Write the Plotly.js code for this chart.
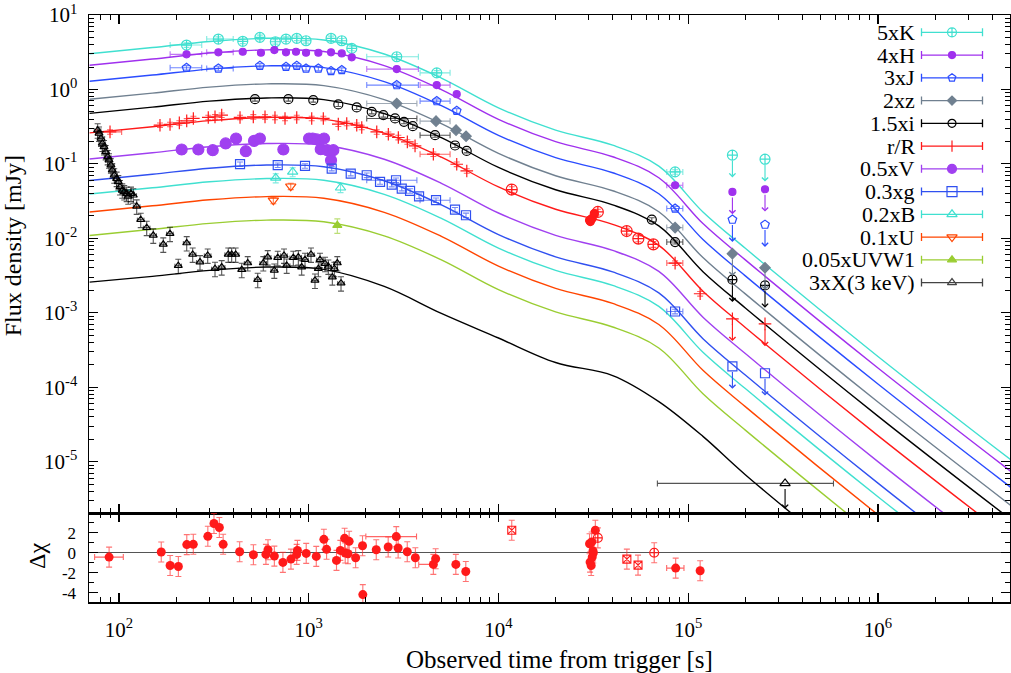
<!DOCTYPE html>
<html>
<head>
<meta charset="utf-8">
<script src="https://cdn.plot.ly/plotly-3.0.1.min.js"></script>
<style>
html, body { margin: 0; padding: 0; background: #fff; }
#lc { width: 1011px; height: 673px; }
</style>
</head>
<body>
<div id="lc"></div>
<script>
const modelT = [70, 150, 300, 600, 1200, 2500, 5000, 1e4, 2e4, 4e4, 7e4, 1.2e5, 2e5, 1e6, 5e6];
const modK = [3.017, 3.656, 4.402, 4.861, 4.612, 2.989, 1.421, 0.5662, 0.2838, 0.1782, 0.0931, 0.02239, 0.00734, 2.588e-4, 1.064e-5];
const modH = [2.111, 2.559, 3.081, 3.402, 3.228, 2.092, 0.9945, 0.3963, 0.1986, 0.1247, 0.06516, 0.01567, 0.005134, 1.811e-4, 7.447e-6];
const modJ = [1.287, 1.560, 1.877, 2.074, 1.967, 1.275, 0.6061, 0.2415, 0.1211, 0.07603, 0.03972, 0.00955, 0.00313, 1.104e-4, 4.539e-6];
const modZ = [0.7372, 0.8933, 1.0755, 1.188, 1.127, 0.7305, 0.3472, 0.1384, 0.06934, 0.04355, 0.02275, 0.00547, 0.001793, 6.324e-5, 2.6e-6];
const modI = [0.4771, 0.5781, 0.6962, 0.7687, 0.7293, 0.4727, 0.2247, 0.08954, 0.04487, 0.02818, 0.01472, 0.00354, 0.00116, 4.093e-5, 1.683e-6];
const modR = [0.2609, 0.316, 0.3807, 0.4204, 0.399, 0.2585, 0.1229, 0.049, 0.02455, 0.01542, 0.00805, 0.001935, 0.000635, 2.238e-5, 9.2e-7];
const modV = [0.1165, 0.1413, 0.1701, 0.1878, 0.1781, 0.1155, 0.05491, 0.02188, 0.01096, 0.006887, 0.003597, 0.000865, 0.0002835, 1.0e-5, 4.11e-7];
const modG = [0.05991, 0.07261, 0.08741, 0.09654, 0.09161, 0.05936, 0.02822, 0.01125, 0.005636, 0.00354, 0.001849, 0.0004446, 0.0001457, 5.14e-6, 2.113e-7];
const modB = [0.03939, 0.04775, 0.05747, 0.06348, 0.06024, 0.03903, 0.01856, 0.007396, 0.003707, 0.002328, 0.001216, 0.0002924, 9.583e-5, 3.38e-6, 1.39e-7];
const modU = [0.02257, 0.02735, 0.03293, 0.03637, 0.03451, 0.02236, 0.01063, 0.004236, 0.002123, 0.001334, 0.0006966, 0.0001675, 5.49e-5, 1.936e-6, 7.96e-8];
const modW1 = [0.0109, 0.01321, 0.0159, 0.01757, 0.01667, 0.0108, 0.005135, 0.002046, 0.001026, 0.000644, 0.0003365, 8.09e-5, 2.651e-5, 9.35e-7, 3.846e-8];
const modX = [0.002582, 0.003083, 0.003707, 0.004111, 0.003828, 0.002259, 0.0009795, 0.0004581, 0.0002148, 0.0001435, 6.412e-5, 2.168e-5, 6.68e-6, 2.28e-7, 8.67e-9];

// measurements: time (s), flux (mJy), time-bin edges where drawn
const kT = [227, 334, 449, 553, 667, 759, 865, 968, 1311, 1493, 1686, 2910, 4729, 85300];
const kF = [3.95, 4.75, 4.43, 5.01, 4.37, 4.75, 4.86, 4.51, 4.86, 4.51, 3.56, 2.75, 1.67, 0.078];
const kLo = [186, 290, null, null, null, null, null, null, null, null, null, 2022, 3862, 77100];
const kHi = [273, 400, null, null, null, null, null, null, null, null, null, 3784, 5558, 93700];

const hT = [227, 334, 449, 560, 659, 759, 857, 968, 1124, 1311, 1493, 1686, 2910, 4729, 6026, 85300];
const hF = [2.96, 3.15, 3.21, 3.11, 3.38, 3.15, 3.21, 3.11, 3.11, 3.15, 3.05, 2.70, 1.877, 1.144, 0.865, 0.0516];
const hLo = [186, 290, null, null, null, null, null, null, null, null, null, null, 2022, 3862, null, 77100];
const hHi = [273, 400, null, null, null, null, null, null, null, null, null, null, 3784, 5558, null, 93700];

const jT = [227, 334, 553, 759, 865, 968, 1124, 1311, 1493, 2910, 4729, 6026, 85300];
const jF = [1.954, 1.918, 2.08, 2.016, 2.08, 1.918, 1.918, 1.765, 1.82, 1.144, 0.697, 0.516, 0.0251];
const jLo = [186, 290, null, null, null, null, null, null, null, 2022, 3862, null, 77100];
const jHi = [273, 400, null, null, null, null, null, null, null, 3784, 5558, null, 93700];

const zT = [2910, 4688, 5977, 6750, 85300];
const zF = [0.6486, 0.375, 0.284, 0.2355, 0.01393];
const zLo = [2022, 3862, null, null, 77100];
const zHi = [3716, 5558, null, null, 93700];

const iT = [521, 781, 1057, 1432, 1791, 2148, 2474, 2851, 3178, 3535, 4632, 5902, 6801, 64300, 85300];
const iF = [0.741, 0.741, 0.7185, 0.629, 0.5733, 0.5, 0.4518, 0.4077, 0.3673, 0.321, 0.243, 0.1767, 0.1494, 0.01785, 0.00891];
const iLo = [null, null, null, null, null, null, null, 2022, null, null, 3862, null, null, null, 77100];
const iHi = [null, null, null, null, null, null, null, 3716, null, null, 5558, null, null, null, 93700];

const rT = [89.7, 164.5, 185.8, 208, 227.5, 246.6, 295.6, 320.7, 347.8, 434.5, 510.5, 588.4, 664, 750, 864.6, 1037, 1194, 1432, 1586, 1791, 1903, 2283, 2628, 2967, 3310, 3634, 4538, 6026, 6808, 85300, 115600];
const rF = [0.269, 0.331, 0.3385, 0.3556, 0.3785, 0.4075, 0.4204, 0.4285, 0.4518, 0.4204, 0.4285, 0.4285, 0.4204, 0.4077, 0.4204, 0.4077, 0.4077, 0.3417, 0.349, 0.331, 0.3084, 0.269, 0.2506, 0.2263, 0.1974, 0.1745, 0.1349, 0.0989, 0.0804, 0.00465, 0.0018];
const rLo = [76.3, null, null, null, null, null, null, null, null, null, null, null, null, null, null, null, null, null, null, null, null, null, null, null, null, null, 3862, null, null, 77100, null];
const rHi = [103.3, null, null, null, null, null, null, null, null, null, null, null, null, null, null, null, null, null, null, null, null, null, null, null, null, null, 5558, null, null, 93700, null];
const rOpT = [11750, 33400, 47400, 54600, 65500];
const rOpF = [0.0452, 0.0226, 0.01253, 0.0099, 0.0083];
const rFiT = [30200, 30500, 30800, 31200, 32000];
const rFiF = [0.0175, 0.0168, 0.018, 0.0186, 0.0215];

const vT = [214, 262, 312, 365, 414, 466, 515, 553, 735, 1004, 1050, 1102, 1157, 1204, 1253, 1311, 1348];
const vF = [0.156, 0.156, 0.1527, 0.188, 0.2194, 0.148, 0.2037, 0.2194, 0.156, 0.2194, 0.2194, 0.213, 0.1575, 0.2194, 0.1527, 0.112, 0.1527];

const gT = [434.5, 686.6, 956, 1322, 1665, 2022, 2376, 2739, 2885, 3093, 3420, 3815, 4688, 5902, 6745, 85300];
const gF = [0.099, 0.096, 0.0939, 0.0866, 0.0742, 0.0704, 0.0572, 0.0528, 0.0603, 0.0466, 0.0433, 0.0367, 0.0325, 0.0243, 0.0204, 0.00104];
const gLo = [null, null, null, null, null, null, null, null, 2022, null, null, null, 3862, null, null, 77100];
const gHi = [null, null, null, null, null, null, null, null, 3716, null, null, null, 5558, null, null, 93700];

const bT = [670, 823, 1471];
const bF = [0.0647, 0.078, 0.0478];
const uT = [651, 804];
const uF = [0.0324, 0.05005];
const w1T = [1415];
const w1F = [0.01496];

const xT = [77.2, 78.5, 80.4, 81.7, 83.4, 85.1, 87.2, 88.6, 90.7, 92.2, 94.4, 97.2, 99.2, 101.2, 104.1, 106.6, 109.8, 111.9, 115.7, 119, 124, 130.2, 140, 151.6, 171.2, 185.7, 205.4, 227.5, 244.6, 267.3, 293.5, 320.7, 347.8, 376.7, 392.6, 412, 443.6, 477, 538.5, 576.3, 608, 658.6, 686.6, 741, 765.6, 829.5, 881.6, 918, 956, 1028, 1079, 1124, 1147, 1219, 1269, 1332, 1365, 1415, 1480];
const xF = [0.2838, 0.256, 0.2193, 0.188, 0.169, 0.145, 0.1242, 0.112, 0.096, 0.0822, 0.0704, 0.0635, 0.0572, 0.049, 0.0442, 0.042, 0.0399, 0.0367, 0.0399, 0.0379, 0.0269, 0.01784, 0.01393, 0.01097, 0.0083, 0.01156, 0.00429, 0.00865, 0.00609, 0.0048, 0.0059, 0.00391, 0.00411, 0.00609, 0.00609, 0.00609, 0.00379, 0.00466, 0.00278, 0.00466, 0.0056, 0.00371, 0.0055, 0.0059, 0.00433, 0.0055, 0.0056, 0.00411, 0.00517, 0.00609, 0.00272, 0.00391, 0.00517, 0.00456, 0.0042, 0.00301, 0.00391, 0.00466, 0.0025];

// upper limits
const ulT = [171000, 254000];
const kUl = [0.131, 0.1156];
const hUl = [0.042, 0.0456];
const jUl = [0.01785, 0.01528];
const zUl = [0.00622, 0.00403];
const iUl = [0.00278, 0.00233];
const rUl = [0.00083, 0.00071];
const gUl = [0.00019, 0.000154];
const xUlT = [324000];
const xUlF = [5.1e-6];
const xUlLo = [68800];
const xUlHi = [583000];

// residuals (Δχ) of r band
const resT = [88.7, 167, 186, 205.6, 227.7, 246.4, 294, 316.7, 338, 354, 432.5, 511, 595, 610, 659, 731, 806, 864, 872, 970, 1096, 1202, 1242, 1401, 1468, 1546, 1557, 1610, 1633, 1767, 1921, 1928, 2269, 2623, 2893, 2960, 3306, 3648, 4538, 4666, 5962, 6728, 30200, 31000, 32400, 31500, 31200, 30400, 30800, 31600, 85900, 115600];
const resV = [-0.44, 0.07, -1.28, -1.38, 0.81, 0.84, 1.64, 2.92, 2.52, 0.84, 0.1, -0.2, -0.17, 0.3, -0.34, -0.97, -0.64, -0.17, 0.23, -0.07, -0.37, 1.34, 0.34, -0.77, 0.23, 1.44, -0.03, -0.1, 1.14, -0.5, 0.7, -4.19, 0.3, 0.57, 1.61, 0.47, 0.1, -0.5, -1.17, -0.6, -1.17, -1.88, 0.9, 1.07, 2.25, 0.17, -0.44, -0.94, -1.28, -0.03, -1.54, -1.8];
const resLo = [74.4, null, null, null, null, null, null, null, null, null, null, null, null, null, null, null, null, null, null, null, null, null, null, null, null, null, null, null, null, null, null, null, null, null, 2000, null, null, null, 3800, null, null, null, null, null, null, null, null, null, null, null, 77000, null];
const resHi = [105.4, null, null, null, null, null, null, null, null, null, null, null, null, null, null, null, null, null, null, null, null, null, null, null, null, null, null, null, null, null, null, null, null, null, 3700, null, null, null, 4650, null, null, null, null, null, null, null, null, null, null, null, 95000, null];
const resSqT = [11750, 47500, 54400];
const resSqV = [2.25, -0.64, -1.24];
const resCiT = [33400, 66200];
const resCiV = [1.48, 0];

const legendLabels = ["5xK", "4xH", "3xJ", "2xz", "1.5xi", "r/R", "0.5xV", "0.3xg", "0.2xB", "0.1xU", "0.05xUVW1", "3xX(3 keV)"];
const yTickVals = [1e-5, 1e-4, 1e-3, 1e-2, 1e-1, 1, 10];
const yTickText = ['10<sup>-5</sup>', '10<sup>-4</sup>', '10<sup>-3</sup>', '10<sup>-2</sup>', '10<sup>-1</sup>', '10<sup>0</sup>', '10<sup>1</sup>'];
const xTickVals = [1e2, 1e3, 1e4, 1e5, 1e6];
const xTickText = ['10<sup>2</sup>', '10<sup>3</sup>', '10<sup>4</sup>', '10<sup>5</sup>', '10<sup>6</sup>'];
const resTickVals = [-4, -2, 0, 2];
const resTickText = ['-4', '-2', '0', '2'];

// colours
const cK = '#40e0d0', cH = '#a030ee', cJ = '#2b4cff', cZ = '#708090', cI = '#000000',
      cR = '#ff1a1a', cV = '#a040f0', cG = '#3050f0', cB = '#40e0d0', cU = '#ff4500',
      cW1 = '#9acd32', cX = '#000000';

const serif = 'Liberation Serif, Times New Roman, serif';
const fade = c => c + 'aa';

function xErr(t, lo, hi, color) {
  return {
    type: 'data', symmetric: false,
    array: hi.map((h, k) => h === null ? NaN : h - t[k]),
    arrayminus: lo.map((l, k) => l === null ? NaN : t[k] - l),
    color: fade(color), thickness: 1.1, width: 3
  };
}

function model(y, color) {
  return {x: modelT, y: y, xaxis: 'x', yaxis: 'y', type: 'scatter', mode: 'lines',
    line: {color: color, width: 1.4, shape: 'spline'}, hoverinfo: 'skip'};
}

function pts(t, f, color, sym, size, pct, lo, hi) {
  const tr = {x: t, y: f, xaxis: 'x', yaxis: 'y', type: 'scatter', mode: 'markers',
    marker: {symbol: sym, size: size, color: color, line: {color: color, width: 1.2}}};
  if (pct) tr.error_y = {type: 'percent', value: pct, color: fade(color), thickness: 1.1, width: 3};
  if (lo) tr.error_x = xErr(t, lo, hi, color);
  return tr;
}

function arrows(t, f, color, len) {
  return t.map((tt, k) => ({
    xref: 'x', yref: 'y', axref: 'x', ayref: 'y',
    x: Math.log10(tt), y: Math.log10(f[k]) - len,
    ax: Math.log10(tt), ay: Math.log10(f[k]),
    text: '', showarrow: true, arrowhead: 4, arrowsize: 1.1, arrowwidth: 1.1,
    arrowcolor: color, startstandoff: 4
  }));
}

const traces = [
  model(modK, cK), model(modH, cH), model(modJ, cJ), model(modZ, cZ), model(modI, cI),
  model(modR, cR), model(modV, cV), model(modG, cG), model(modB, cB), model(modU, cU),
  model(modW1, cW1), model(modX, cX),

  pts(kT, kF, cK, 'circle-cross-open', 10, 7, kLo, kHi),
  pts(hT, hF, cH, 'circle', 7, 6, hLo, hHi),
  pts(jT, jF, cJ, 'pentagon-open', 9, 7, jLo, jHi),
  pts(zT, zF, cZ, 'diamond', 8, 7, zLo, zHi),
  pts(iT, iF, cI, 'circle-open', 9, 6, iLo, iHi),
  pts(rT, rF, cR, 'cross-thin-open', 9, 7, rLo, rHi),
  pts(rOpT, rOpF, cR, 'circle-cross-open', 11, 9),
  pts(rFiT, rFiF, cR, 'circle', 8, 8),
  pts(vT, vF, cV, 'circle', 11, 14),
  pts(gT, gF, cG, 'square-open', 9, 7, gLo, gHi),
  pts(bT, bF, cB, 'triangle-up-open', 9, 14),
  pts(uT, uF, cU, 'triangle-down-open', 9, 10),
  pts(w1T, w1F, cW1, 'triangle-up', 8, 22),
  Object.assign(pts(xT, xF, cX, 'triangle-up-open', 7, 22),
    {error_x: {type: 'percent', value: 4, color: fade(cX), thickness: 1, width: 2}}),

  // upper limit markers
  pts(ulT, kUl, cK, 'circle-cross-open', 10),
  pts(ulT, hUl, cH, 'circle', 7),
  pts(ulT, jUl, cJ, 'pentagon-open', 9),
  pts(ulT, zUl, cZ, 'diamond', 8),
  pts(ulT, iUl, cI, 'circle-cross-open', 9),
  pts(ulT, rUl, cR, 'cross-thin-open', 9),
  pts(ulT, gUl, cG, 'square-open', 9),
  pts(xUlT, xUlF, cX, 'triangle-up-open', 9, 0, xUlLo, xUlHi),

  // residual panel
  {x: resT, y: resV, xaxis: 'x2', yaxis: 'y2', type: 'scatter', mode: 'markers',
    marker: {symbol: 'circle', size: 9, color: cR},
    error_y: {type: 'constant', value: 1, color: 'rgba(255,40,40,0.65)', thickness: 1.1, width: 3},
    error_x: xErr(resT, resLo, resHi, cR)},
  {x: resSqT, y: resSqV, xaxis: 'x2', yaxis: 'y2', type: 'scatter', mode: 'markers',
    marker: {symbol: 'square-x-open', size: 8, color: cR, line: {width: 1.1}},
    error_y: {type: 'constant', value: 1, color: 'rgba(255,40,40,0.65)', thickness: 1.1, width: 3}},
  {x: resCiT, y: resCiV, xaxis: 'x2', yaxis: 'y2', type: 'scatter', mode: 'markers',
    marker: {symbol: 'circle-cross-open', size: 9, color: cR, line: {width: 1.1}},
    error_y: {type: 'constant', value: 1, color: 'rgba(255,40,40,0.65)', thickness: 1.1, width: 3}}
];

// key, drawn on an overlay axis measured in page pixels
const keyStyle = [
  [cK, 'circle-cross-open', 9], [cH, 'circle', 7], [cJ, 'pentagon-open', 8], [cZ, 'diamond', 7],
  [cI, 'circle-open', 8], [cR, 'line-ns-open', 8], [cV, 'circle', 9], [cG, 'square-open', 10],
  [cB, 'triangle-up-open', 9], [cU, 'triangle-down-open', 9], [cW1, 'triangle-up', 8], ['#444', 'triangle-up-open', 8]
];
const keyAnn = [];
legendLabels.forEach((lab, k) => {
  const yRow = 32.3 + k * 22.75;
  const st = keyStyle[k];
  traces.push({x: [952], y: [yRow], xaxis: 'x3', yaxis: 'y3', type: 'scatter', mode: 'markers',
    hoverinfo: 'skip',
    marker: {symbol: st[1], size: st[2], color: st[0], line: {color: st[0], width: 1.2}},
    error_x: {type: 'constant', value: 30.5, color: st[0], thickness: 1.3, width: 4}});
  keyAnn.push({xref: 'x3', yref: 'y3', x: 917, y: yRow, xanchor: 'right', yanchor: 'middle',
    text: lab, showarrow: false, font: {family: serif, size: 22, color: '#000'}});
});

const axisBase = {
  showgrid: false, zeroline: false, showline: true, linecolor: '#000', linewidth: 1.5,
  mirror: 'allticks', ticks: 'inside', ticklen: 9, tickwidth: 1.2, tickcolor: '#000',
  tickfont: {family: serif, size: 21, color: '#000'}
};
const logMinor = {ticks: 'inside', ticklen: 5, dtick: 'D1', tickcolor: '#000', tickwidth: 1};

const layout = {
  width: 1011, height: 673,
  margin: {l: 89, r: 1, t: 15, b: 71},
  paper_bgcolor: '#fff', plot_bgcolor: '#fff',
  showlegend: false,
  xaxis: Object.assign({}, axisBase, {
    type: 'log', range: [1.842, 6.696], anchor: 'y', showticklabels: false,
    tickmode: 'array', tickvals: xTickVals, minor: logMinor
  }),
  xaxis2: Object.assign({}, axisBase, {
    type: 'log', range: [1.842, 6.696], anchor: 'y2', matches: 'x',
    tickmode: 'array', tickvals: xTickVals, ticktext: xTickText, ticklabelstandoff: 8,
    minor: logMinor
  }),
  yaxis: Object.assign({}, axisBase, {
    type: 'log', range: [-5.69, 1.0], domain: [0.1516, 1], anchor: 'x',
    tickmode: 'array', tickvals: yTickVals, ticktext: yTickText, ticklabelstandoff: 6,
    minor: logMinor
  }),
  yaxis2: Object.assign({}, axisBase, {
    range: [-4.93, 3.97], domain: [0, 0.1516], anchor: 'x2',
    tickmode: 'array', tickvals: resTickVals, ticktext: resTickText, ticklabelstandoff: 8,
    tickfont: {family: serif, size: 17, color: '#000'},
    zeroline: true, zerolinecolor: '#555', zerolinewidth: 1.5,
    minor: {ticks: 'inside', ticklen: 5, dtick: 1, tickcolor: '#000', tickwidth: 1}
  }),
  xaxis3: {overlaying: 'x', range: [89, 1010], visible: false, fixedrange: true},
  yaxis3: {overlaying: 'y', range: [513, 15], visible: false, fixedrange: true},
  annotations: [
    {xref: 'paper', yref: 'paper', x: -0.0822, y: 0.6065, xanchor: 'center', yanchor: 'middle',
      textangle: -90, showarrow: false,
      text: 'Flux density [mJy]', font: {family: serif, size: 24, color: '#000'}},
    {xref: 'paper', yref: 'paper', x: -0.0565, y: 0.0784, xanchor: 'center', yanchor: 'middle',
      textangle: -90, showarrow: false,
      text: 'Δχ', font: {family: serif, size: 24, color: '#000'}},
    {xref: 'paper', yref: 'paper', x: 0.5114, y: -0.0988, xanchor: 'center', yanchor: 'middle',
      showarrow: false,
      text: 'Observed time from trigger [s]', font: {family: serif, size: 25, color: '#000'}}
  ].concat(keyAnn,
    arrows(ulT, kUl, cK, 0.30), arrows(ulT, hUl, cH, 0.30), arrows(ulT, jUl, cJ, 0.30),
    arrows(ulT, zUl, cZ, 0.30), arrows(ulT, iUl, cI, 0.30), arrows(ulT, rUl, cR, 0.30),
    arrows(ulT, gUl, cG, 0.30), arrows(xUlT, xUlF, cX, 0.34))
};

Plotly.newPlot('lc', traces, layout, {displayModeBar: false, staticPlot: true});
</script>
</body>
</html>
